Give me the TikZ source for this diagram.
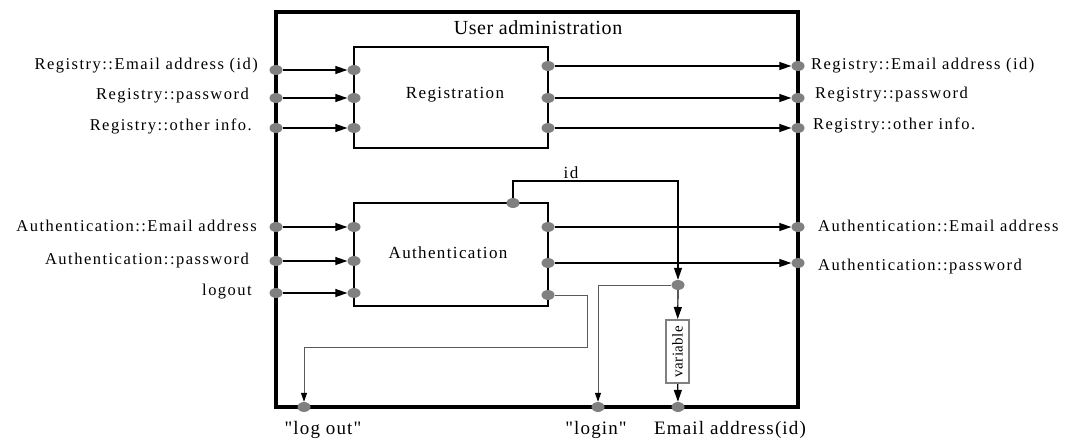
\documentclass[tikz,border=0pt]{standalone}
\usepackage{fontspec}
\setmainfont{Liberation Serif}
\newfontfamily\lblfont{Liberation Serif}[LetterSpace=9]
\newfontfamily\boxfont{Liberation Serif}[LetterSpace=8]
\newfontfamily\ttlfont{Liberation Serif}[LetterSpace=3]
\newfontfamily\botfont{Liberation Serif}[LetterSpace=6]
\usetikzlibrary{arrows.meta,shapes.geometric}
\definecolor{portgray}{RGB}{128,128,128}
\definecolor{linegray}{RGB}{90,90,90}
\tikzset{
  port/.style={ellipse,fill=portgray,draw=none,minimum width=13pt,minimum height=10pt,inner sep=0pt},
  conn/.style={line width=1.2pt,-{Triangle[length=12pt,width=8pt]}},
  thinconn/.style={line width=1pt,draw=linegray,-{Triangle[length=9pt,width=6pt,color=black]}},
  outerbox/.style={draw,line width=3.5pt,minimum width=522pt,minimum height=395pt,inner sep=0pt},
  funcbox/.style={draw,line width=1.4pt,minimum width=194pt,inner sep=0pt},
  varbox/.style={draw=portgray,line width=2pt,fill=white,minimum width=63pt,minimum height=23pt,inner sep=0pt,rotate=90,
     font=\ttlfont\fontsize{15}{16}\selectfont},
  lbl/.style={inner sep=0pt,font=\lblfont\fontsize{16.5}{18}\selectfont},
  boxlbl/.style={inner sep=0pt,font=\boxfont\fontsize{17}{19}\selectfont},
  ttl/.style={inner sep=0pt,font=\ttlfont\fontsize{20}{22}\selectfont},
  botlbl/.style={inner sep=0pt,font=\botfont\fontsize{19}{21}\selectfont},
}
\begin{document}
\begin{tikzpicture}[x=1pt,y=-1pt]
\useasboundingbox (0,0) rectangle (1069,441);
% boxes
\node[outerbox] (ua) at (537,209.5) {};
\node[ttl] (title) at (538,28) {User administration};
\node[funcbox,minimum height=101pt] (reg) at (451,97.5) {};
\node[boxlbl] (regl) at (455,95) {Registration};
\node[funcbox,minimum height=103pt] (auth) at (451,254.5) {};
\node[boxlbl] (authl) at (448,253) {Authentication};
\node[varbox] (var) at (677.5,351.5) {variable};
% ports
\node[port] (ri1) at (276,70) {};
\node[port] (ri2) at (276,98) {};
\node[port] (ri3) at (276,128) {};
\node[port] (rb1) at (354,70) {};
\node[port] (rb2) at (354,98) {};
\node[port] (rb3) at (354,128) {};
\node[port] (rc1) at (548,66) {};
\node[port] (rc2) at (548,98) {};
\node[port] (rc3) at (548,128) {};
\node[port] (ro1) at (798,66) {};
\node[port] (ro2) at (798,98) {};
\node[port] (ro3) at (798,128) {};
\node[port] (ai1) at (276,227) {};
\node[port] (ai2) at (276,261) {};
\node[port] (ai3) at (276,293) {};
\node[port] (ab1) at (354,227) {};
\node[port] (ab2) at (354,261) {};
\node[port] (ab3) at (354,293) {};
\node[port] (ac1) at (548,227) {};
\node[port] (ac2) at (548,263) {};
\node[port] (ac3) at (548,295) {};
\node[port] (ao1) at (798,227) {};
\node[port] (ao2) at (798,263) {};
\node[port] (atop) at (513,203) {};
\node[port] (pj) at (678,285) {};
\node[port] (plogout) at (304,407) {};
\node[port] (plogin) at (598,407) {};
\node[port] (pemail) at (678,407) {};
% bends
\coordinate (idc) at (678,181);
\coordinate (lo1) at (587,347);
\coordinate (lo2) at (304,347);
% connectors
\draw[conn] (ri1) -- (rb1);
\draw[conn] (ri2) -- (rb2);
\draw[conn] (ri3) -- (rb3);
\draw[conn] (rc1) -- (ro1);
\draw[conn] (rc2) -- (ro2);
\draw[conn] (rc3) -- (ro3);
\draw[conn] (ai1) -- (ab1);
\draw[conn] (ai2) -- (ab2);
\draw[conn] (ai3) -- (ab3);
\draw[conn] (ac1) -- (ao1);
\draw[conn] (ac2) -- (ao2);
\draw[conn] (atop.north) |- (idc) -- (pj);
\draw[conn] (pj) -- (var);
\draw[conn] (var) -- (pemail);
\draw[thinconn] (ac3) -| (lo1) -- (lo2) -- (plogout);
\draw[thinconn] (pj) -| (plogin);
% labels
\node[lbl,anchor=east] (l1) at (258,66) {Registry::Email address (id)};
\node[lbl,anchor=east] (l2) at (249,96) {Registry::password};
\node[lbl,anchor=east] (l3) at (252,126) {Registry::other info.};
\node[lbl,anchor=east] (l4) at (257,226) {Authentication::Email address};
\node[lbl,anchor=east] (l5) at (249,261) {Authentication::password};
\node[lbl,anchor=east] (l6) at (252,292) {logout};
\node[lbl,anchor=west] (r1) at (811,66) {Registry::Email address (id)};
\node[lbl,anchor=west] (r2) at (815,95) {Registry::password};
\node[lbl,anchor=west] (r3) at (813,125) {Registry::other info.};
\node[lbl,anchor=west] (r4) at (818,226) {Authentication::Email address};
\node[lbl,anchor=west] (r5) at (818,267) {Authentication::password};
\node[boxlbl] (idl) at (571,173) {id};
\node[botlbl] (b1) at (323,430) {"log out"};
\node[botlbl] (b2) at (596,430) {"login"};
\node[botlbl,anchor=west] (b3) at (654,430) {Email address(id)};
\end{tikzpicture}
\end{document}
